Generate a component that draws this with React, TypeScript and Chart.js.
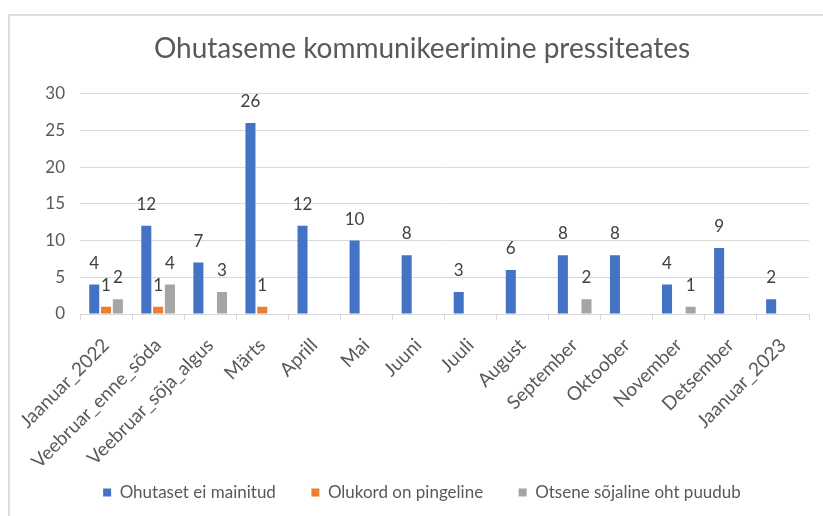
import React, { useEffect, useRef } from "react";
import { Chart, registerables } from "chart.js";

Chart.register(...registerables);

const TITLE = "Ohutaseme kommunikeerimine pressiteates";
const CATEGORIES = [
  "Jaanuar_2022",
  "Veebruar_enne_sõda",
  "Veebruar_sõja_algus",
  "Märts",
  "Aprill",
  "Mai",
  "Juuni",
  "Juuli",
  "August",
  "September",
  "Oktoober",
  "November",
  "Detsember",
  "Jaanuar_2023",
];
const SERIES_NAMES = ["Ohutaset ei mainitud", "Olukord on pingeline", "Otsene sõjaline oht puudub"];
const OHUTASET_EI_MAINITUD = [4, 12, 7, 26, 12, 10, 8, 3, 6, 8, 8, 4, 9, 2];
const OLUKORD_ON_PINGELINE = [1, 1, 0, 1, 0, 0, 0, 0, 0, 0, 0, 0, 0, 0];
const OTSENE_OHT_PUUDUB = [2, 4, 3, 0, 0, 0, 0, 0, 0, 2, 0, 1, 0, 0];
const COLORS = ["#4472C4", "#ED7D31", "#A5A5A5"];
const Y_MIN = 0;
const Y_MAX = 30;
const Y_STEP = 5;

const FONT = "Lato, 'Open Sans', sans-serif";
const LEGEND_GAP = "\u2002\u2002\u2002";

const dataLabels = {
  id: "dataLabels",
  afterDatasetsDraw(chart: any) {
    const ctx = chart.ctx;
    ctx.save();
    ctx.font = `17px ${FONT}`;
    ctx.fillStyle = "#404040";
    ctx.textAlign = "center";
    ctx.textBaseline = "alphabetic";
    chart.data.datasets.forEach((ds: any, i: number) => {
      const meta = chart.getDatasetMeta(i);
      meta.data.forEach((el: any, j: number) => {
        const v = ds.data[j];
        if (!v) return;
        ctx.fillText(String(v), el.x, el.y - 16);
      });
    });
    ctx.restore();
  },
};

export default function App() {
  const ref = useRef<HTMLCanvasElement | null>(null);
  useEffect(() => {
    if (!ref.current) return;
    const seriesData = [OHUTASET_EI_MAINITUD, OLUKORD_ON_PINGELINE, OTSENE_OHT_PUUDUB];
    const chart = new Chart(ref.current, {
      type: "bar",
      data: {
        labels: CATEGORIES,
        datasets: SERIES_NAMES.map((name, i) => ({
          label: name,
          data: seriesData[i],
          backgroundColor: COLORS[i],
          borderWidth: 0,
          barPercentage: 0.85,
          categoryPercentage: 0.68,
        })),
      },
      options: {
        animation: false,
        responsive: false,
        devicePixelRatio: 1,
        layout: { padding: { left: 35, right: 14, top: 0, bottom: 5 } },
        plugins: {
          title: {
            display: true,
            text: TITLE,
            color: "#595959",
            font: { family: FONT, size: 28, weight: "normal" },
            padding: { top: 32, bottom: 28 },
          },
          legend: {
            position: "bottom",
            labels: {
              color: "#595959",
              font: { family: FONT, size: 17 },
              boxWidth: 8,
              boxHeight: 8,
              padding: 10,
              generateLabels(chart: any) {
                const items = Chart.defaults.plugins.legend.labels.generateLabels(chart);
                return items.map((it: any, i: number) => ({
                  ...it,
                  text: i < items.length - 1 ? it.text + LEGEND_GAP : it.text,
                }));
              },
            },
          },
          tooltip: { enabled: false },
        },
        scales: {
          x: {
            grid: {
              offset: true,
              drawOnChartArea: false,
              drawTicks: true,
              tickLength: 6,
              color: "#d9d9d9",
            },
            border: { display: true, color: "#d9d9d9" },
            ticks: {
              color: "#595959",
              font: { family: FONT, size: 19 },
              autoSkip: false,
              minRotation: 45,
              maxRotation: 45,
              padding: 14,
            },
            afterFit(scale: any) {
              scale.height = 160;
            },
          },
          y: {
            min: Y_MIN,
            max: Y_MAX,
            grid: { color: "#d9d9d9", drawTicks: false },
            border: { display: false },
            ticks: {
              stepSize: Y_STEP,
              color: "#595959",
              font: { family: FONT, size: 17 },
              padding: 15,
            },
            afterFit(scale: any) {
              scale.width = 45;
            },
          },
        },
      },
      plugins: [dataLabels],
    });
    return () => chart.destroy();
  }, []);

  return (
    <div
      style={{
        position: "fixed",
        left: 0,
        top: 0,
        width: 823,
        height: 516,
        overflow: "hidden",
        background: "#fff",
      }}
    >
      <div
        style={{
          position: "absolute",
          left: 8,
          top: 14,
          width: 840,
          height: 540,
          border: "2px solid #dedede",
        }}
      />
      <canvas
        ref={ref}
        width={823}
        height={516}
        style={{ position: "absolute", left: 0, top: 0, width: 823, height: 516 }}
      />
    </div>
  );
}
